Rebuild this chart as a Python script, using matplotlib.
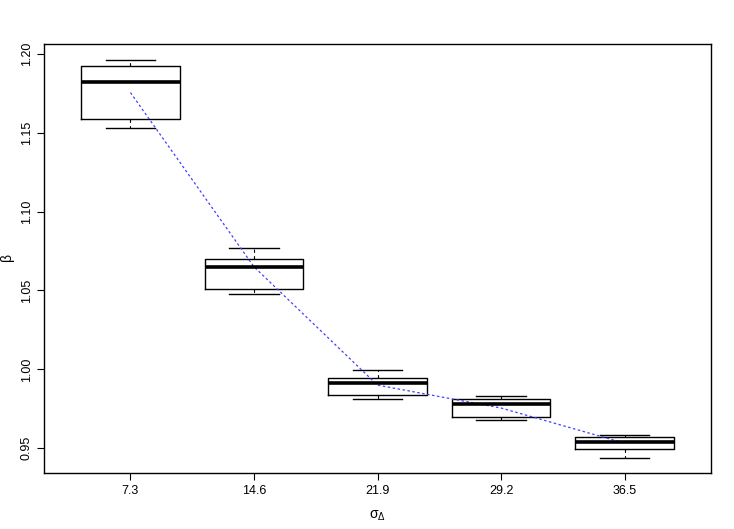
import matplotlib
matplotlib.use("Agg")
import matplotlib.pyplot as plt

categories = ["7.3", "14.6", "21.9", "29.2", "36.5"]
whislo = [1.1527, 1.0478, 0.9811, 0.9677, 0.9440]
q1 = [1.1584, 1.0508, 0.9836, 0.9700, 0.9494]
med = [1.1823, 1.0647, 0.9916, 0.9779, 0.9540]
q3 = [1.1921, 1.0698, 0.9947, 0.9814, 0.9572]
whishi = [1.1960, 1.0767, 0.9994, 0.9830, 0.9586]
means = [1.1754, 1.0650, 0.9900, 0.9755, 0.9532]
yticks = [0.95, 1.00, 1.05, 1.10, 1.15, 1.20]

plt.rcParams['font.family'] = ['Liberation Sans', 'DejaVu Sans']

fig = plt.figure(figsize=(7.34, 5.29), dpi=100)
ax = fig.add_axes([44/734, 1-473/529, (711-44)/734, (473-44)/529])

pos = list(range(1, len(categories)+1))
stats = []
for i in range(len(categories)):
    stats.append(dict(med=med[i], q1=q1[i], q3=q3[i], whislo=whislo[i], whishi=whishi[i], fliers=[]))

ax.bxp(stats, positions=pos, widths=0.8, showfliers=False,
       boxprops=dict(color='black', linewidth=1.0),
       medianprops=dict(color='black', linewidth=2.6, solid_capstyle='butt'),
       whiskerprops=dict(color='black', linewidth=0.8, linestyle=(0, (3, 3))),
       capprops=dict(color='black', linewidth=1.0),
       capwidths=0.4)

ax.plot(pos, means, color='#4040ff', linewidth=0.9, linestyle=(0, (2, 2)))

ax.set_xlim(0.3, 5.7)
ax.set_ylim(0.9343, 1.2062)
ax.set_xticks(pos)
ax.set_xticklabels(categories, fontsize=9)
ax.set_yticks(yticks)
ax.set_yticklabels([f"{v:.2f}" for v in yticks], fontsize=9, rotation=90, va='center')
ax.tick_params(axis='both', direction='out', length=5, width=0.8, pad=4)
ax.tick_params(axis='y', pad=3)
for s in ax.spines.values():
    s.set_linewidth(1.0)

ax.set_xlabel(r"$\mathregular{\sigma_\Delta}$", fontsize=10, labelpad=8)
ax.set_ylabel(r"$\mathregular{\beta}$", fontsize=10)
ax.yaxis.set_label_coords(-0.040, 0.5)

fig.savefig("out.png", dpi=100)
